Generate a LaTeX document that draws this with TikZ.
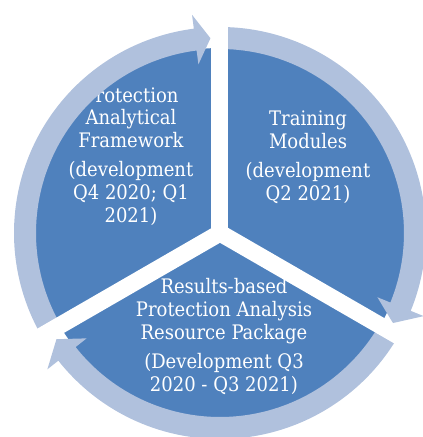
\documentclass[tikz,border=0pt]{standalone}
\usepackage{fontspec}
\setmainfont{DejaVu Serif Condensed}
\usepackage{tikz}
\definecolor{pieblue}{HTML}{4F81BD}
\definecolor{ringblue}{HTML}{B0C1DD}

\begin{document}
\begin{tikzpicture}[x=0.75pt,y=0.75pt,
  every node/.style={font=\fontsize{15}{17}\selectfont,text=white,align=center,inner sep=0pt}]
\useasboundingbox (-220,-204) rectangle (203,233);
\def\rpie{185}
\def\rin{184}
\def\rout{206}
\def\rmid{195}
\def\hlo{170}
\def\hhi{220}
\fill[pieblue] (0,0) circle[radius=\rpie];
% sector texts
\node (frame) at (-89,76.5) {Protection\\Analytical\\Framework\\[5pt](development\\Q4 2020; Q1\\2021)};
\node (modules) at (88,75.5) {Training\\Modules\\[5pt](development\\Q2 2021)};
\node (package) at (4,-103.5) {Results-based\\Protection Analysis\\Resource Package\\[5pt](Development Q3\\2020 - Q3 2021)};
% ring arrows, clockwise
\foreach \a/\b/\t in {212/97.3/92.8, 89/-22.2/-27.5, -29/-141.7/-147}{
  \fill[ringblue] (\a:\rout) arc[start angle=\a,end angle=\b,radius=\rout]
    -- (\b:\hhi) -- (\t:\rmid) -- (\b:\hlo) -- (\b:\rin)
    arc[start angle=\b,end angle=\a,radius=\rin] -- cycle;
}
% gaps
\foreach \g in {90,210,-30}
  \draw[white,line width=12.75pt] (0,0) -- (\g:215);
\end{tikzpicture}
\end{document}
